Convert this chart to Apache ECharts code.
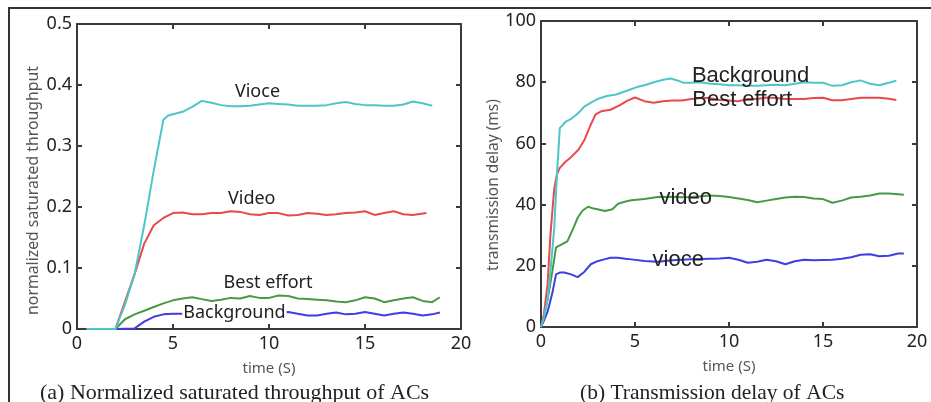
<!DOCTYPE html>
<html>
<head>
<meta charset="utf-8">
<script src="https://cdn.jsdelivr.net/npm/echarts@6/dist/echarts.min.js"></script>
<style>html,body{margin:0;padding:0;background:#fff;}#c{width:931px;height:402px;}</style>
</head>
<body>
<div id="c"></div>
<script>
// ---- (a) Normalized saturated throughput ----
var xTicksA = [0, 5, 10, 15, 20];
var yTicksA = [0, 0.1, 0.2, 0.3, 0.4, 0.5];
var voiceA_t = [0.5,2.0,2.5,3.0,3.5,4.0,4.5,4.75,5.0,5.5,6.0,6.5,7.0,7.5,8.0,8.5,9.0,9.5,10.0,10.5,11.0,11.5,12.0,12.5,13.0,13.5,14.0,14.5,15.0,15.5,16.0,16.5,17.0,17.5,18.0,18.5];
var voiceA_v = [0,0,0.04,0.09,0.17,0.26,0.343,0.35,0.352,0.356,0.364,0.374,0.371,0.367,0.365,0.365,0.366,0.368,0.37,0.369,0.368,0.366,0.366,0.366,0.367,0.37,0.372,0.369,0.367,0.367,0.366,0.366,0.368,0.373,0.37,0.366];
var videoA_t = [0.5,2.0,2.5,3.0,3.5,4.0,4.5,5.0,5.5,6.0,6.5,7.0,7.5,8.0,8.5,9.0,9.5,10.0,10.5,11.0,11.5,12.0,12.5,13.0,13.5,14.0,14.5,15.0,15.5,16.0,16.5,17.0,17.5,18.2];
var videoA_v = [0,0,0.045,0.09,0.14,0.17,0.182,0.19,0.191,0.188,0.188,0.19,0.19,0.193,0.192,0.188,0.187,0.19,0.19,0.186,0.187,0.19,0.189,0.187,0.188,0.19,0.191,0.193,0.187,0.19,0.193,0.188,0.187,0.19];
var bestA_t = [0.5,2.0,2.5,3.0,3.5,4.0,4.5,5.0,5.5,6.0,6.5,7.0,7.5,8.0,8.5,9.0,9.5,10.0,10.5,11.0,11.5,12.0,12.5,13.0,13.5,14.0,14.5,15.0,15.5,16.0,16.5,17.0,17.5,18.0,18.5,18.9];
var bestA_v = [0,0,0.016,0.024,0.03,0.036,0.042,0.047,0.05,0.052,0.049,0.046,0.048,0.051,0.05,0.054,0.051,0.051,0.055,0.054,0.05,0.049,0.048,0.047,0.045,0.044,0.047,0.052,0.05,0.044,0.047,0.05,0.052,0.046,0.044,0.052];
var bgA_t = [0.5,2.0,3.0,3.5,4.0,4.5,5.0,5.5,6.0,6.5,7.0,8.0,9.0,10.0,11.0,11.5,12.0,12.5,13.0,13.5,14.0,14.5,15.0,15.5,16.0,16.5,17.0,17.5,18.0,18.5,18.9];
var bgA_v = [0,0,0.001,0.012,0.02,0.024,0.025,0.025,0.025,0.025,0.025,0.025,0.025,0.026,0.028,0.025,0.022,0.022,0.025,0.027,0.024,0.025,0.028,0.025,0.022,0.025,0.027,0.025,0.022,0.024,0.027];

// ---- (b) Transmission delay ----
var xTicksB = [0, 5, 10, 15, 20];
var yTicksB = [0, 20, 40, 60, 80, 100];
var bgB_t = [0,0.15,0.35,0.5,0.7,0.85,1.0,1.3,1.6,2.0,2.3,2.7,3.0,3.5,4.0,4.6,5.1,5.5,6.0,6.5,6.9,7.3,7.6,8.0,8.5,9.0,9.5,10.0,10.5,11.0,11.5,12.0,12.5,13.0,13.5,14.0,14.5,15.0,15.5,16.0,16.5,17.0,17.5,18.0,18.5,18.9];
var bgB_v = [0,3,9,18,32,50,65,67,68,70,72,73.5,74.5,75.5,76,77.3,78.4,79,80,80.8,81.2,80.5,79.8,79.8,80,79.5,79.3,79,79,78.8,78.8,79,79.2,79,79.5,80,79.8,79.8,78.8,79,80,80.6,79.5,79,79.8,80.5];
var bestB_t = [0,0.15,0.35,0.5,0.7,0.85,1.0,1.3,1.6,2.0,2.3,2.6,2.9,3.2,3.7,4.2,4.6,5.0,5.5,6.0,6.5,7.0,7.5,8.0,8.5,9.0,9.5,10.0,10.5,11.0,11.5,12.0,12.5,13.0,13.5,14.0,14.5,15.0,15.5,16.0,16.5,17.0,17.5,18.0,18.5,18.9];
var bestB_v = [0,4,14,30,45,50,52,54,55.5,58,61,65.5,69.5,70.5,71,72.5,74,75,73.8,73.3,73.8,74,74,74.5,74.8,74.8,74.2,74,73.8,74.5,74.5,75,74.8,74.5,74.5,74.5,74.8,74.9,74.1,74.1,74.5,74.9,74.9,74.9,74.6,74.2];
var videoB_t = [0,0.15,0.35,0.6,0.8,1.1,1.4,1.7,1.95,2.2,2.5,2.8,3.0,3.4,3.8,4.1,4.5,4.8,5.5,6.2,7.0,7.5,8.0,8.5,9.0,9.5,10.0,10.5,11.0,11.5,12.0,12.5,13.0,13.5,14.0,14.5,15.0,15.5,16.0,16.5,17.0,17.5,18.0,18.5,19.0,19.3];
var videoB_v = [0,3,9,18,26,27,28,32,35.7,38,39.3,38.7,38.5,37.9,38.5,40.3,41,41.4,41.8,42.5,42.6,42.4,42.5,42.7,43,42.8,42.5,42,41.5,40.8,41.3,41.8,42.3,42.6,42.5,42,41.8,40.6,41.3,42.3,42.6,43,43.6,43.6,43.4,43.2];
var voiceB_t = [0,0.15,0.35,0.6,0.8,1.0,1.24,1.6,1.95,2.3,2.65,3.0,3.36,3.7,4.07,4.5,4.8,5.5,6.2,7.0,7.5,8.0,8.5,9.0,9.5,10.0,10.5,11.0,11.5,12.0,12.5,13.0,13.5,14.0,14.5,15.0,15.5,16.0,16.5,17.0,17.5,18.0,18.5,19.0,19.3];
var voiceB_v = [0,2,5,11,17.2,17.8,17.8,17.2,16.3,18,20.5,21.5,22.1,22.6,22.6,22.3,22.1,21.6,21.3,21.8,22,22.1,22.2,22.3,22.4,22.6,22,21,21.3,22,21.5,20.5,21.5,22,21.8,21.9,22,22.3,22.8,23.6,23.8,23.1,23.3,24,24];

// labels
var labelsA = [['Vioce', 9.4, 0.389], ['Video', 9.1, 0.213], ['Best effort', 9.95, 0.075], ['Background', 8.2, 0.026]];
var labelsB = [['Background', 11.15, 82], ['Best effort', 10.7, 74.2], ['video', 7.7, 42.3], ['vioce', 7.3, 21.8]];

var COL = {cyan:'#4cc6c8', red:'#e8484e', green:'#469a46', blue:'#3e3ee2'};

function pairs(t, v){ return t.map(function(x,i){ return [x, v[i]]; }); }

var axisLineStyle = {color:'#3a3a3a', width:2};
function xAx(grid, pos, showLabel, name){
  return {type:'value', gridIndex:grid, position:pos, min:0, max:20, interval:5,
    axisLine:{show:true, onZero:false, lineStyle:axisLineStyle},
    axisTick:{show:true, inside:true, length:5, lineStyle:{color:'#3a3a3a', width:2}},
    splitLine:{show:false},
    axisLabel:{show:showLabel, color:'#222', fontSize:18, fontFamily:'Noto Sans', margin:6},
    name: name || '', nameLocation:'middle', nameGap:32,
    nameTextStyle:{color:'#555', fontSize:15, fontFamily:'Noto Sans'}};
}
function yAx(grid, pos, showLabel, max, interval, name, nameSize, nameGap, pad){
  return {type:'value', gridIndex:grid, position:pos, min:0, max:max, interval:interval,
    axisLine:{show:true, onZero:false, lineStyle:axisLineStyle},
    axisTick:{show:true, inside:true, length:5, lineStyle:{color:'#3a3a3a', width:2}},
    splitLine:{show:false},
    axisLabel:{show:showLabel, color:'#222', fontSize:18, fontFamily:'Noto Sans', margin:5},
    name: name || '', nameLocation:'middle', nameGap:nameGap || 36, nameRotate:90,
    nameTextStyle:{color:'#555', fontSize:nameSize || 14, fontFamily:'Noto Sans', padding:[0, pad || 0, 0, 0]}};
}

function lineSeries(xi, yi, data, color, marks, fontFamily, fontSize, bg){
  var s = {type:'line', xAxisIndex:xi, yAxisIndex:yi, data:data, showSymbol:false, symbol:'none',
    lineStyle:{color:color, width:2}, itemStyle:{color:color}, animation:false, z:2};
  if (marks) {
    s.markPoint = {symbol:'circle', symbolSize:1, itemStyle:{color:'rgba(0,0,0,0)'}, animation:false,
      data: marks.map(function(m){ return {coord:[m[1], m[2]], value:m[0],
        label:{show:true, position:'inside', formatter:m[0], color:'#222', fontFamily:fontFamily, fontSize:fontSize,
               backgroundColor: bg ? '#fff' : 'transparent', padding: bg ? [0,1,0,1] : 0}}; })};
  }
  return s;
}

var chart = echarts.init(document.getElementById('c'), null, {renderer:'canvas'});
chart.setOption({
  backgroundColor:'#fff',
  animation:false,
  grid:[
    {left:77, top:24, width:384, height:305},
    {left:541, top:21, width:376, height:306}
  ],
  xAxis:[
    xAx(0,'bottom',true,'time (S)'), xAx(0,'top',false),
    xAx(1,'bottom',true,'time (S)'), xAx(1,'top',false)
  ],
  yAxis:[
    yAx(0,'left',true,0.5,0.1,'normalized saturated throughput',15.8,36,28), yAx(0,'right',false,0.5,0.1),
    yAx(1,'left',true,100,20,'transmission delay (ms)',15.5,36,22), yAx(1,'right',false,100,20)
  ],
  series:[
    lineSeries(0,0,pairs(bgA_t,bgA_v),COL.blue,[labelsA[3]],'Noto Sans',18,true),
    lineSeries(0,0,pairs(bestA_t,bestA_v),COL.green,[labelsA[2]],'Noto Sans',18,false),
    lineSeries(0,0,pairs(videoA_t,videoA_v),COL.red,[labelsA[1]],'Noto Sans',18,false),
    lineSeries(0,0,pairs(voiceA_t,voiceA_v),COL.cyan,[labelsA[0]],'Noto Sans',18,false),
    lineSeries(2,2,pairs(voiceB_t,voiceB_v),COL.blue,[labelsB[3]],'Liberation Sans',22,false),
    lineSeries(2,2,pairs(videoB_t,videoB_v),COL.green,[labelsB[2]],'Liberation Sans',22,false),
    lineSeries(2,2,pairs(bestB_t,bestB_v),COL.red,[labelsB[1]],'Liberation Sans',22,false),
    lineSeries(2,2,pairs(bgB_t,bgB_v),COL.cyan,[labelsB[0]],'Liberation Sans',22,false)
  ],
  graphic:[
    {type:'rect', shape:{x:9, y:8, width:1000, height:500}, style:{fill:'none', stroke:'#333', lineWidth:2}, silent:true},
    {type:'text', left:40, top:382, style:{text:'(a) Normalized saturated throughput of ACs', fill:'#222', font:'22px "Liberation Serif"'}},
    {type:'text', left:580, top:382, style:{text:'(b) Transmission delay of ACs', fill:'#222', font:'21.5px "Liberation Serif"'}}
  ]
});
</script>
</body>
</html>
